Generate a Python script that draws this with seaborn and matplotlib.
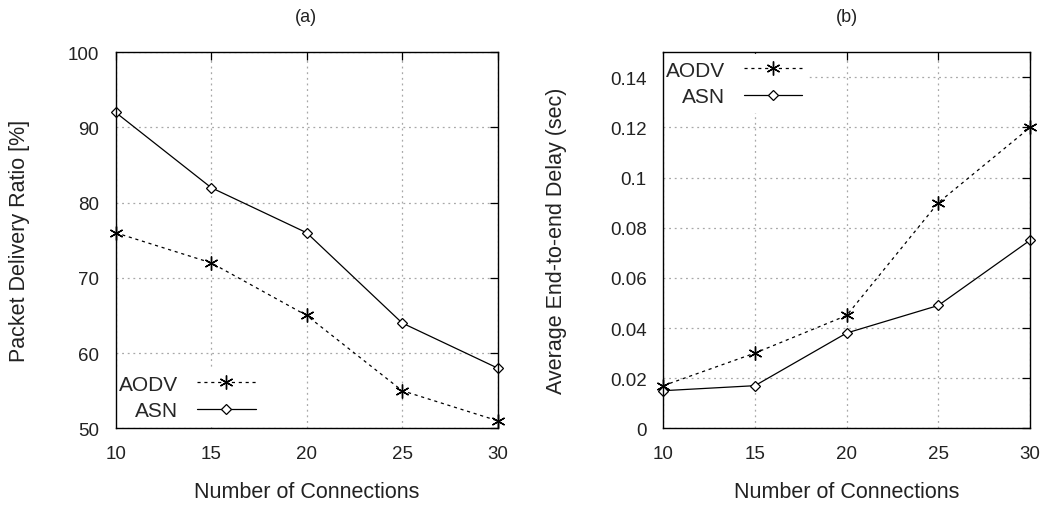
import matplotlib
matplotlib.use("Agg")
import matplotlib.pyplot as plt
import seaborn as sns
import pandas as pd

connections = [10, 15, 20, 25, 30]
pdr_aodv = [76, 72, 65, 55, 51]
pdr_asn = [92, 82, 76, 64, 58]
delay_aodv = [0.017, 0.030, 0.045, 0.090, 0.120]
delay_asn = [0.015, 0.017, 0.038, 0.049, 0.075]
series_names = ["AODV", "ASN"]

sns.set_theme(style="white")
plt.rcParams["font.family"] = ["Liberation Sans", "DejaVu Sans"]
plt.rcParams["font.size"] = 12

TXT = "#222222"
fig = plt.figure(figsize=(10.44, 5.06), dpi=100)
ax1 = fig.add_axes([0.1108, 0.1516, 0.3659, 0.7431])
ax2 = fig.add_axes([0.6353, 0.1516, 0.3513, 0.7431])

star = (6, 2, 0)

def draw(ax, aodv, asn):
    df = pd.DataFrame({"x": connections * 2,
                       "y": list(aodv) + list(asn),
                       "s": [series_names[0]] * 5 + [series_names[1]] * 5})
    d1 = df[df.s == "AODV"]
    d2 = df[df.s == "ASN"]
    sns.lineplot(data=d1, x="x", y="y", ax=ax, color="black", lw=0.9,
                 marker=star, markersize=10, markeredgewidth=1.0,
                 markeredgecolor="black", label="AODV", zorder=3, clip_on=False)
    l1 = ax.lines[-1]
    l1.set_dashes((2.5, 3))
    sns.lineplot(data=d2, x="x", y="y", ax=ax, color="black", lw=0.9,
                 marker="D", markersize=5.5, markerfacecolor="white",
                 markeredgecolor="black", markeredgewidth=0.9,
                 label="ASN", zorder=3, clip_on=False)
    ax.grid(True, color="#a8a8a8", linestyle=(0, (1.5, 3)), linewidth=0.9)
    ax.set_axisbelow(True)
    for s in ax.spines.values():
        s.set_color("black")
        s.set_linewidth(1.0)
        s.set_zorder(4)
    ax.tick_params(direction="in", length=6, width=0.9, top=True, right=True,
                   labelsize=13.5, colors="black")
    ax.tick_params(axis="y", pad=12)
    ax.tick_params(axis="x", pad=12)
    for lbl in ax.get_xticklabels() + ax.get_yticklabels():
        lbl.set_color(TXT)
    ax.set_xlim(10, 30)
    ax.set_xticks(connections)
    ax.set_xlabel("Number of Connections", fontsize=15.5, color=TXT)
    ax.xaxis.set_label_coords(0.5, -0.1668)
    ax.xaxis.label.set_va("center")
    return l1

legkw = dict(markerfirst=False, frameon=True, framealpha=1,
             edgecolor="white", facecolor="white", handlelength=2.8,
             fontsize=15, borderpad=0.3, borderaxespad=0.1, labelspacing=0.35,
             handletextpad=0.9, fancybox=False)

draw(ax1, pdr_aodv, pdr_asn)
ax1.set_ylim(50, 100)
ax1.set_yticks([50, 60, 70, 80, 90, 100])
ax1.set_ylabel("Packet Delivery Ratio [%]", fontsize=15.5, color=TXT)
ax1.yaxis.set_label_coords(-0.2506, 0.5)
ax1.yaxis.label.set_va("center")
leg1 = ax1.legend(loc="lower left", bbox_to_anchor=(-0.012, 0.0), **legkw)
leg1.set_zorder(2.8)

draw(ax2, delay_aodv, delay_asn)
ax2.set_ylim(0, 0.15)
ax2.set_yticks([0, 0.02, 0.04, 0.06, 0.08, 0.1, 0.12, 0.14])
ax2.set_yticklabels(["0", "0.02", "0.04", "0.06", "0.08", "0.1", "0.12", "0.14"])
ax2.set_ylabel("Average End-to-end Delay (sec)", fontsize=15.5, color=TXT)
ax2.yaxis.set_label_coords(-0.29, 0.5)
ax2.yaxis.label.set_va("center")
leg2 = ax2.legend(loc="upper left", bbox_to_anchor=(-0.016, 1.0), **legkw)
leg2.set_zorder(2.8)

fig.text(0.2935, 0.965, "(a)", ha="center", va="center", fontsize=13, color=TXT)
fig.text(0.811, 0.965, "(b)", ha="center", va="center", fontsize=13, color=TXT)

fig.savefig("out.png", dpi=100, facecolor="white")
